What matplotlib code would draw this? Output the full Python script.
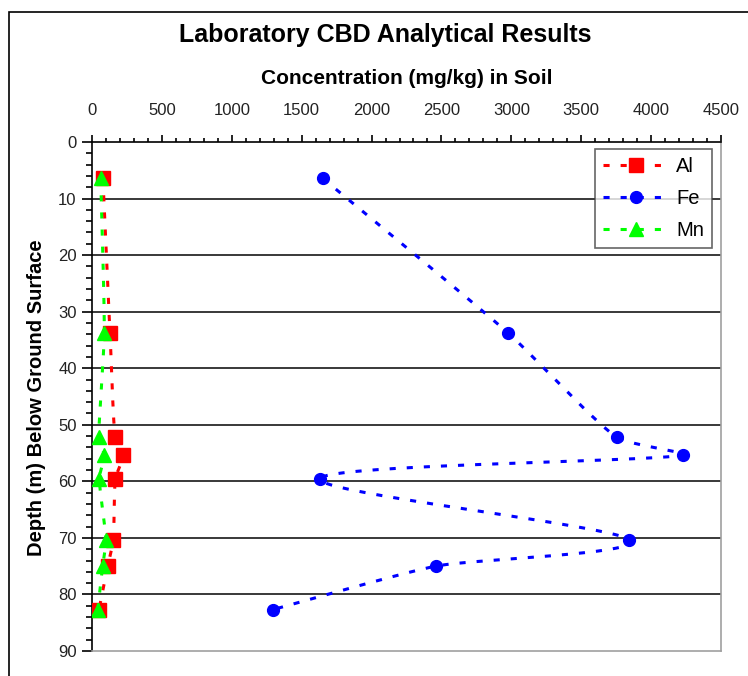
import numpy as np
import matplotlib
matplotlib.use("Agg")
import matplotlib.pyplot as plt
from matplotlib.patches import Rectangle
from matplotlib.lines import Line2D

plt.rcParams['font.family'] = ['Liberation Sans', 'DejaVu Sans']

# ---- data ----
depth = [6.4, 33.7, 52.2, 55.4, 59.5, 70.3, 75.0, 82.7]
al = [78, 129, 165, 224, 167, 153, 112, 50]
fe = [1650, 2974, 3753, 4230, 1631, 3844, 2458, 1292]
mn = [62, 88, 48, 88, 52, 100, 76, 41]
series_names = ['Al', 'Fe', 'Mn']
x_ticks = [0, 500, 1000, 1500, 2000, 2500, 3000, 3500, 4000, 4500]
y_ticks = [0, 10, 20, 30, 40, 50, 60, 70, 80, 90]

W, H = 748, 676
fig = plt.figure(figsize=(W / 100, H / 100), dpi=100)
ax_l, ax_r, ax_t, ax_b = 92, 721, 142, 651
ax = fig.add_axes([ax_l / W, 1 - ax_b / H, (ax_r - ax_l) / W, (ax_b - ax_t) / H])

# outer chart frame
fig.patches.append(Rectangle((9 / W, -0.1), 1.2, 1 - 12 / H + 0.1, transform=fig.transFigure,
                             fill=False, edgecolor='black', linewidth=1.2))

xmin, xmax = 0, 4500
ymin, ymax = 0, 90
px_w, px_h = ax_r - ax_l, ax_b - ax_t


def smooth(xs, ys, n=40, clamp=0.2):
    # Excel-like smoothed line (Catmull-Rom Bezier) computed in pixel space
    P = np.column_stack([(np.asarray(xs, float) - xmin) / (xmax - xmin) * px_w,
                         (np.asarray(ys, float) - ymin) / (ymax - ymin) * px_h])
    out = [P[0]]
    m = len(P)
    for i in range(m - 1):
        p0 = P[i - 1] if i > 0 else P[i]
        p1, p2 = P[i], P[i + 1]
        p3 = P[i + 2] if i + 2 < m else P[i + 1]
        L = np.linalg.norm(p2 - p1)
        d1 = (p2 - p0) / 6.0
        d2 = (p3 - p1) / 6.0
        for d in (d1, d2):
            nd = np.linalg.norm(d)
            if nd > clamp * L and nd > 0:
                d *= clamp * L / nd
        c1 = p1 + d1
        c2 = p2 - d2
        t = np.linspace(0, 1, n)[1:, None]
        seg = ((1 - t) ** 3) * p1 + 3 * ((1 - t) ** 2) * t * c1 + 3 * (1 - t) * t ** 2 * c2 + t ** 3 * p2
        out.extend(seg)
    out = np.array(out)
    return (out[:, 0] / px_w * (xmax - xmin) + xmin,
            out[:, 1] / px_h * (ymax - ymin) + ymin)


styles = {
    'Al': dict(color='#FF0000', marker='s', ms=10),
    'Fe': dict(color='#0000FF', marker='o', ms=8.5),
    'Mn': dict(color='#00FF00', marker='^', ms=10),
}
data = {'Al': al, 'Fe': fe, 'Mn': mn}
dash = (2.0, 3.6)
lw = 2.2
for z, name in enumerate(series_names):
    st = styles[name]
    sx, sy = smooth(data[name], depth)
    ax.plot(sx, sy, color=st['color'], lw=lw, linestyle=(0, dash), zorder=3 + z)
    ax.plot(data[name], depth, linestyle='none', marker=st['marker'], ms=st['ms'],
            color=st['color'], markeredgecolor=st['color'], zorder=3 + z)

ax.set_xlim(xmin, xmax)
ax.set_ylim(ymax, ymin)

ax.xaxis.tick_top()
ax.set_xticks(x_ticks)
ax.set_xticks(np.arange(0, 4501, 100), minor=True)
ax.set_yticks(y_ticks)
ax.set_yticks(np.arange(0, 91, 2), minor=True)
ax.set_xticklabels([str(v) for v in x_ticks])
ax.set_yticklabels([str(v) for v in y_ticks])
ax.tick_params(axis='x', which='major', direction='out', length=5, width=1.2, labelsize=12,
               pad=12, colors='black')
ax.tick_params(axis='x', which='minor', direction='out', length=3, width=1.2)
ax.tick_params(axis='y', which='major', direction='out', length=7, width=1.2, labelsize=12, pad=4)
ax.tick_params(axis='y', which='minor', direction='out', length=4, width=1.2)
for lab in ax.get_xticklabels() + ax.get_yticklabels():
    lab.set_color('#222222')

for yv in y_ticks[1:-1]:
    ax.axhline(yv, color='#2a2a2a', lw=1.3, zorder=1)

ax.spines['left'].set_color('black')
ax.spines['top'].set_color('black')
ax.spines['right'].set_color('#a0a0a0')
ax.spines['bottom'].set_color('#a0a0a0')
for s in ax.spines.values():
    s.set_linewidth(1.2)

ax.xaxis.set_label_position('top')
fig.text(407 / W, 1 - 79 / H, 'Concentration (mg/kg) in Soil', fontsize=15, fontweight='bold',
         ha='center', va='center')
fig.text(37 / W, 1 - 398 / H, 'Depth (m) Below Ground Surface', fontsize=14.5, fontweight='bold',
         ha='center', va='center', rotation=90)
fig.text(385 / W, 1 - 35 / H, 'Laboratory CBD Analytical Results', fontsize=18,
         fontweight='bold', ha='center', va='center')

handles = [Line2D([], [], color=styles[n]['color'], lw=lw, linestyle=(0, dash),
                  marker=styles[n]['marker'], ms=styles[n]['ms']) for n in series_names]
leg = ax.legend(handles, series_names, loc='upper right', bbox_to_anchor=(0.989, 0.99),
                fontsize=14.5, frameon=True, fancybox=False, edgecolor='#404040',
                handlelength=3.3, borderpad=0.4, labelspacing=0.65, handletextpad=0.35,
                borderaxespad=0.1)
leg.get_frame().set_linewidth(1.2)
leg.set_zorder(10)

fig.savefig('out.png', dpi=100, facecolor='white')
